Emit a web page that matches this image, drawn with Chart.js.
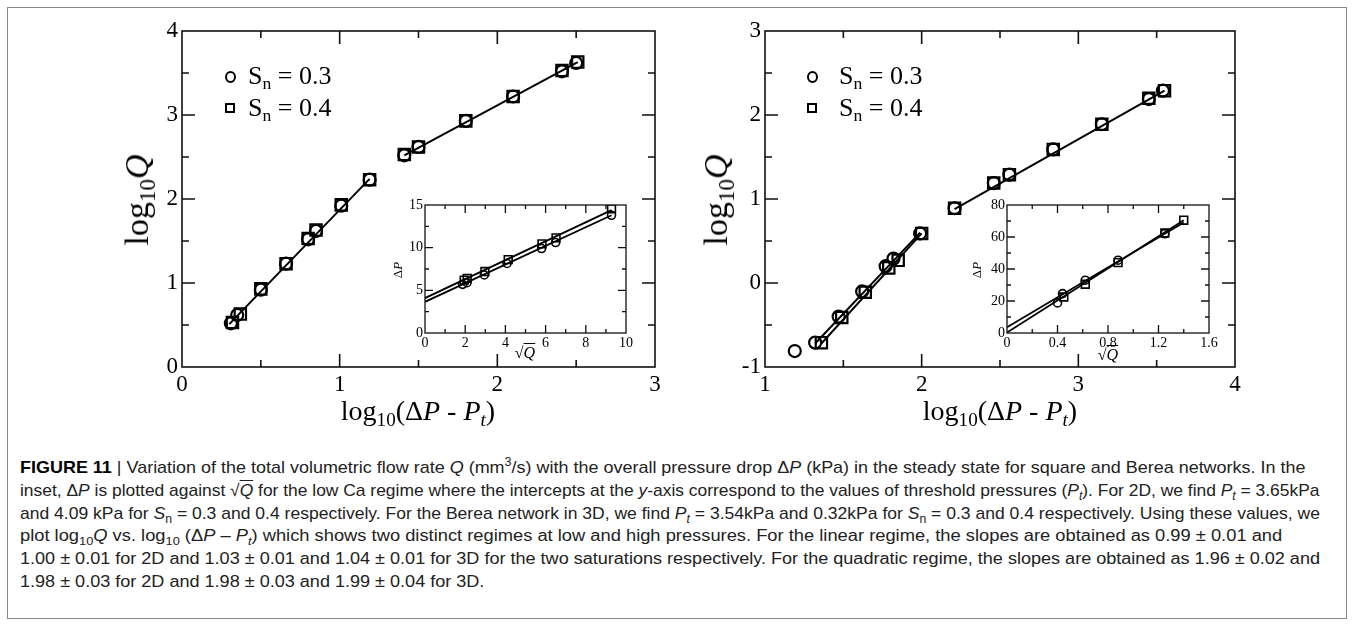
<!DOCTYPE html>
<html>
<head>
<meta charset="utf-8">
<script src="https://cdn.jsdelivr.net/npm/chart.js@4.4.0/dist/chart.umd.min.js"></script>
<style>
  body { margin: 0; background: #fff; width: 1354px; height: 625px; overflow: hidden; position: relative; }
  #frame { position: absolute; left: 7px; top: 7px; width: 1338px; height: 610px; border: 1px solid #8a8a8a; }
  .box { position: absolute; }
  .t { position: absolute; white-space: nowrap; color: #000; font-family: 'Liberation Serif', 'DejaVu Serif', serif; line-height: 1; }
  .t sub { font-size: 0.68em; vertical-align: -0.3em; line-height: 0; }
  .rot { transform: translate(-50%, -50%) rotate(-90deg); }
  .ctr { transform: translate(-50%, -50%); }
  .mk { position: absolute; box-sizing: border-box; border: 2px solid #000; }
  .cap { position: absolute; left: 20px; white-space: nowrap; font-family: 'Liberation Sans Narrow', 'Liberation Sans', 'Roboto', sans-serif; font-size: 17px; color: #222; display: inline-block; transform-origin: 0 0; line-height: 1; }
  .cap.w { font-family: 'Liberation Sans', 'Roboto', sans-serif; font-size: 16px; }
  .cap sub, .cap sup { font-size: 0.7em; line-height: 0; }
</style>
</head>
<body>
<div id="frame"></div>

<div class="box" style="left:0;top:0;"><canvas id="mainL" width="680" height="400"></canvas></div>
<div class="box" style="left:680px;top:0;"><canvas id="mainR" width="674" height="400"></canvas></div>
<div class="box" style="left:370px;top:190px;"><canvas id="insetL" width="280" height="170"></canvas></div>
<div class="box" style="left:950px;top:190px;"><canvas id="insetR" width="280" height="170"></canvas></div>

<!-- axis titles -->
<div class="t rot" style="left:137px;top:200px;font-size:34px;">log<sub>10</sub><i>Q</i></div>
<div class="t rot" style="left:716px;top:200px;font-size:34px;">log<sub>10</sub><i>Q</i></div>
<div class="t ctr" style="left:418px;top:411px;font-size:28px;">log<sub>10</sub>(Δ<i>P</i> - <i>P<sub>t</sub></i>)</div>
<div class="t ctr" style="left:1000px;top:411px;font-size:28px;">log<sub>10</sub>(Δ<i>P</i> - <i>P<sub>t</sub></i>)</div>
<div class="t rot" style="left:397px;top:270px;font-size:13px;">Δ<i>P</i></div>
<div class="t rot" style="left:976px;top:270px;font-size:13px;">Δ<i>P</i></div>
<div class="t ctr" style="left:525px;top:353px;font-size:16px;">√<i style="text-decoration:overline">Q</i></div>
<div class="t ctr" style="left:1108px;top:355px;font-size:16px;">√<i style="text-decoration:overline">Q</i></div>

<!-- legends -->
<div class="mk" style="left:225px;top:71px;width:11px;height:12px;border-radius:50%;"></div>
<div class="mk" style="left:225px;top:103px;width:10px;height:10px;"></div>
<div class="t" style="left:248px;top:63px;font-size:26px;">S<sub>n</sub> = 0.3</div>
<div class="t" style="left:248px;top:95px;font-size:26px;">S<sub>n</sub> = 0.4</div>
<div class="mk" style="left:807px;top:71px;width:11px;height:12px;border-radius:50%;"></div>
<div class="mk" style="left:807px;top:103px;width:10px;height:10px;"></div>
<div class="t" style="left:839px;top:63px;font-size:26px;">S<sub>n</sub> = 0.3</div>
<div class="t" style="left:839px;top:95px;font-size:26px;">S<sub>n</sub> = 0.4</div>

<!-- caption -->
<div class="cap" id="c1" style="top:459px;"><b style="color:#000">FIGURE 11</b> | Variation of the total volumetric flow rate <i>Q</i> (mm<sup>3</sup>/s) with the overall pressure drop Δ<i>P</i> (kPa) in the steady state for square and Berea networks. In the</div>
<div class="cap" id="c2" style="top:482px;">inset, Δ<i>P</i> is plotted against √<i style="text-decoration:overline">Q</i> for the low Ca regime where the intercepts at the <i>y</i>-axis correspond to the values of threshold pressures (<i>P<sub>t</sub></i>). For 2D, we find <i>P<sub>t</sub></i> = 3.65kPa</div>
<div class="cap" id="c3" style="top:505px;">and 4.09 kPa for <i>S</i><sub>n</sub> = 0.3 and 0.4 respectively. For the Berea network in 3D, we find <i>P<sub>t</sub></i> = 3.54kPa and 0.32kPa for <i>S</i><sub>n</sub> = 0.3 and 0.4 respectively. Using these values, we</div>
<div class="cap w" id="c4" style="top:528px;">plot log<sub>10</sub><i>Q</i> vs. log<sub>10</sub> (Δ<i>P</i> – <i>P<sub>t</sub></i>) which shows two distinct regimes at low and high pressures. For the linear regime, the slopes are obtained as 0.99 ± 0.01 and</div>
<div class="cap w" id="c5" style="top:551px;">1.00 ± 0.01 for 2D and 1.03 ± 0.01 and 1.04 ± 0.01 for 3D for the two saturations respectively. For the quadratic regime, the slopes are obtained as 1.96 ± 0.02 and</div>
<div class="cap w" id="c6" style="top:574px;">1.98 ± 0.03 for 2D and 1.98 ± 0.03 and 1.99 ± 0.04 for 3D.</div>

<script>
// ---- 2D square network: log10 Q vs log10(dP - Pt)
var sqX03 = [0.31, 0.35, 0.50, 0.66, 0.80, 0.85, 1.01, 1.19, 1.41, 1.50, 1.80, 2.10, 2.41, 2.50];
var sqY03 = [0.52, 0.62, 0.92, 1.23, 1.52, 1.62, 1.92, 2.23, 2.52, 2.62, 2.93, 3.22, 3.52, 3.62];
var sqX04 = [0.32, 0.37, 0.50, 0.66, 0.80, 0.85, 1.01, 1.19, 1.41, 1.50, 1.80, 2.10, 2.41, 2.51];
var sqY04 = [0.53, 0.63, 0.93, 1.23, 1.53, 1.63, 1.93, 2.23, 2.53, 2.62, 2.93, 3.22, 3.53, 3.63];
// fitted lines (quadratic regime, linear regime)
var sqFitLowX = [0.30, 1.19];
var sqFitLowY = [0.51, 2.24];
var sqFitHighX = [1.41, 2.51];
var sqFitHighY = [2.52, 3.63];

// ---- 3D Berea network
var beX03 = [1.19, 1.32, 1.47, 1.62, 1.77, 1.82, 1.99, 2.21, 2.46, 2.56, 2.84, 3.15, 3.45, 3.54];
var beY03 = [-0.81, -0.71, -0.40, -0.10, 0.20, 0.29, 0.59, 0.89, 1.19, 1.29, 1.59, 1.89, 2.19, 2.29];
var beX04 = [1.36, 1.49, 1.64, 1.79, 1.85, 2.00, 2.21, 2.46, 2.56, 2.84, 3.15, 3.45, 3.55];
var beY04 = [-0.71, -0.41, -0.11, 0.18, 0.27, 0.59, 0.89, 1.19, 1.29, 1.59, 1.89, 2.20, 2.29];
var beFitLow03X = [1.32, 1.99];
var beFitLow03Y = [-0.72, 0.60];
var beFitLow04X = [1.36, 2.00];
var beFitLow04Y = [-0.72, 0.59];
var beFitHighX = [2.21, 3.55];
var beFitHighY = [0.88, 2.29];

// ---- insets: dP vs sqrt(Q)
var inLX03 = [1.87, 2.09, 2.95, 4.08, 5.80, 6.50, 9.28];
var inLY03 = [5.7, 5.9, 6.8, 8.15, 9.9, 10.6, 13.8];
var inLX04 = [1.95, 2.10, 2.98, 4.14, 5.82, 6.52, 9.28];
var inLY04 = [6.2, 6.4, 7.2, 8.6, 10.45, 11.15, 14.55];
var inLFit03X = [0, 9.28];
var inLFit03Y = [3.65, 13.8];
var inLFit04X = [0, 9.28];
var inLFit04Y = [4.09, 14.4];

var inRX03 = [0.40, 0.44, 0.62, 0.88, 1.25];
var inRY03 = [18.8, 24.6, 33, 45.5, 62];
var inRX04 = [0.45, 0.62, 0.88, 1.25, 1.40];
var inRY04 = [22.5, 30.5, 44, 62.5, 70.5];
var inRFit03X = [0, 1.40];
var inRFit03Y = [3.54, 69];
var inRFit04X = [0, 1.40];
var inRFit04Y = [0.32, 70.5];

function pts(xs, ys) {
  var out = [];
  for (var i = 0; i < xs.length; i++) out.push({x: xs[i], y: ys[i]});
  return out;
}

function lineSet(xs, ys, w) {
  return {data: pts(xs, ys), showLine: true, pointRadius: 0, borderColor: '#000', borderWidth: w, fill: false};
}

function markSet(xs, ys, style, r, w) {
  return {data: pts(xs, ys), showLine: false, pointStyle: style, pointRadius: r,
    pointBorderColor: '#000', pointBackgroundColor: 'rgba(0,0,0,0)', pointBorderWidth: w};
}

// inward major + minor ticks on all four sides, plus closed frame
var frameTicks = {
  id: 'frameTicks',
  afterDraw: function (chart, args, o) {
    var ctx = chart.ctx, a = chart.chartArea;
    var xs = chart.scales.x, ys = chart.scales.y;
    ctx.save();
    ctx.strokeStyle = '#111';
    ctx.lineWidth = o.lw;
    ctx.strokeRect(a.left, a.top, a.right - a.left, a.bottom - a.top);
    ctx.beginPath();
    var n = Math.round((xs.max - xs.min) / o.xMinor);
    for (var i = 1; i < n; i++) {
      var v = xs.min + i * o.xMinor;
      var len = (i % o.xEvery === 0) ? o.major : o.minor;
      var px = xs.getPixelForValue(v);
      ctx.moveTo(px, a.bottom); ctx.lineTo(px, a.bottom - len);
      ctx.moveTo(px, a.top); ctx.lineTo(px, a.top + len);
    }
    n = Math.round((ys.max - ys.min) / o.yMinor);
    for (var j = 1; j < n; j++) {
      var vy = ys.min + j * o.yMinor;
      var leny = (j % o.yEvery === 0) ? o.major : o.minor;
      var py = ys.getPixelForValue(vy);
      ctx.moveTo(a.left, py); ctx.lineTo(a.left + leny, py);
      ctx.moveTo(a.right, py); ctx.lineTo(a.right - leny, py);
    }
    ctx.stroke();
    ctx.restore();
  }
};

function makeChart(id, box, area, cfg) {
  var yW = cfg.yW, xH = cfg.xH;
  var fontT = {family: "'Liberation Serif', serif", size: cfg.fs};
  return new Chart(document.getElementById(id), {
    type: 'scatter',
    data: {datasets: cfg.datasets},
    plugins: [frameTicks],
    options: {
      responsive: false,
      animation: false,
      events: [],
      layout: {padding: {
        left: area[0] - box[0] - yW,
        right: box[0] + box[2] - area[1],
        top: area[2] - box[1],
        bottom: box[1] + box[3] - area[3] - xH
      }},
      plugins: {legend: {display: false}, tooltip: {enabled: false},
        frameTicks: {lw: cfg.lw, major: cfg.major, minor: cfg.minor,
          xMinor: cfg.xMinor, xEvery: cfg.xEvery, yMinor: cfg.yMinor, yEvery: cfg.yEvery}},
      scales: {
        x: {type: 'linear', min: cfg.xr[0], max: cfg.xr[1],
          afterFit: function (s) { s.height = xH; },
          grid: {display: false, drawTicks: false}, border: {display: false},
          ticks: {stepSize: cfg.xStep, color: '#000', font: fontT, padding: cfg.pad, maxRotation: 0,
            callback: cfg.fmt}},
        y: {type: 'linear', min: cfg.yr[0], max: cfg.yr[1],
          afterFit: function (s) { s.width = yW; },
          grid: {display: false, drawTicks: false}, border: {display: false},
          ticks: {stepSize: cfg.yStep, color: '#000', font: fontT, padding: cfg.pad}}
      }
    }
  });
}

var intFmt = function (v) { return Math.round(v * 10) / 10; };

makeChart('mainL', [0, 0, 680, 400], [182, 655, 31, 367], {
  yW: 60, xH: 30, fs: 23, pad: 4, lw: 1.6, major: 13, minor: 7,
  xr: [0, 3], yr: [0, 4], xStep: 1, yStep: 1, xMinor: 0.5, xEvery: 2, yMinor: 0.5, yEvery: 2, fmt: intFmt,
  datasets: [
    lineSet(sqFitLowX, sqFitLowY, 2), lineSet(sqFitHighX, sqFitHighY, 2),
    markSet(sqX03, sqY03, 'circle', 6, 2.2), markSet(sqX04, sqY04, 'rect', 8, 2.2)
  ]
});

makeChart('mainR', [680, 0, 674, 400], [765, 1235, 31, 367], {
  yW: 60, xH: 30, fs: 23, pad: 4, lw: 1.6, major: 13, minor: 7,
  xr: [1, 4], yr: [-1, 3], xStep: 1, yStep: 1, xMinor: 0.5, xEvery: 2, yMinor: 0.5, yEvery: 2, fmt: intFmt,
  datasets: [
    lineSet(beFitLow03X, beFitLow03Y, 2), lineSet(beFitLow04X, beFitLow04Y, 2), lineSet(beFitHighX, beFitHighY, 2),
    markSet(beX03, beY03, 'circle', 6, 2.2), markSet(beX04, beY04, 'rect', 8, 2.2)
  ]
});

makeChart('insetL', [370, 190, 280, 170], [425, 626, 205, 333], {
  yW: 30, xH: 16, fs: 14, pad: 2, lw: 1.3, major: 8, minor: 4,
  xr: [0, 10], yr: [0, 15], xStep: 2, yStep: 5, xMinor: 1, xEvery: 2, yMinor: 2.5, yEvery: 2, fmt: intFmt,
  datasets: [
    lineSet(inLFit03X, inLFit03Y, 1.8), lineSet(inLFit04X, inLFit04Y, 1.8),
    markSet(inLX03, inLY03, 'circle', 4, 1.6), markSet(inLX04, inLY04, 'rect', 5.5, 1.6)
  ]
});

makeChart('insetR', [950, 190, 280, 170], [1007, 1209, 205, 333], {
  yW: 30, xH: 16, fs: 14, pad: 2, lw: 1.3, major: 8, minor: 4,
  xr: [0, 1.6], yr: [0, 80], xStep: 0.4, yStep: 20, xMinor: 0.2, xEvery: 2, yMinor: 10, yEvery: 2, fmt: intFmt,
  datasets: [
    lineSet(inRFit03X, inRFit03Y, 1.8), lineSet(inRFit04X, inRFit04Y, 1.8),
    markSet(inRX03, inRY03, 'circle', 4, 1.6), markSet(inRX04, inRY04, 'rect', 5.5, 1.6)
  ]
});

// stretch caption lines to the widths they take in the figure
function fit(id, w) {
  var el = document.getElementById(id);
  var k = w / el.scrollWidth;
  el.style.transform = 'scaleX(' + k + ')';
  return k;
}
fit('c1', 1285);
fit('c2', 1300);
fit('c3', 1300);
fit('c4', 1262);
var k5 = fit('c5', 1300);
document.getElementById('c6').style.transform = 'scaleX(' + k5 + ')';
</script>
</body>
</html>
